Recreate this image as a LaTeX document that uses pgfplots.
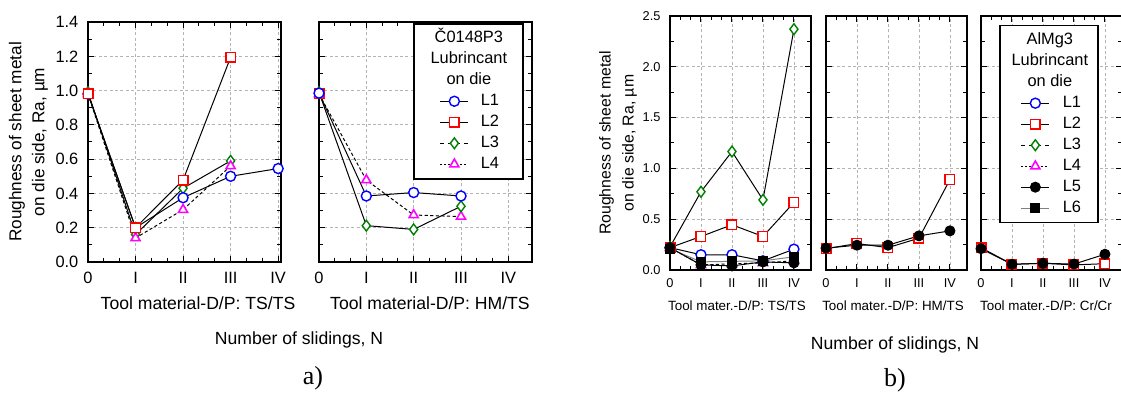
\documentclass[border=0pt]{standalone}
\usepackage{fontspec}
\setmainfont{Liberation Sans}
\newfontfamily\serifa{Liberation Serif}
\usepackage{pgfplots}
\pgfplotsset{compat=1.18}
\definecolor{cgreen}{RGB}{0,128,0}
\definecolor{cmag}{RGB}{255,0,255}
\definecolor{cgrid}{RGB}{180,180,180}
\definecolor{cgray}{RGB}{128,128,128}

\pgfplotsset{
 base/.style={scale only axis, clip=false,
   axis line style={line width=0.9pt},
   every tick/.style={black, line width=0.5pt},
   major tick length=3pt, minor tick length=1.8pt, tick align=inside,
   grid=major, major grid style={cgrid, dash pattern=on 1.5pt off 1.2pt, line width=0.4pt},
   xtick={0,1,2,3,4}, xticklabels={0,I,II,III,IV}, minor x tick num=2,
   xmin=0, ymin=0,
   /pgf/number format/assume math mode=true,
   yticklabel style={/pgf/number format/fixed, /pgf/number format/fixed zerofill, /pgf/number format/precision=1},
   legend cell align=left},
 fontA/.style={
   tick label style={/tikz/font=\fontsize{8.2}{9}\selectfont},
   xticklabel style={/tikz/anchor=base, /tikz/yshift=-11pt},
   yticklabel style={/tikz/xshift=-1.3pt},
   xlabel style={font=\fontsize{8.8}{10}\selectfont, at={(axis description cs:0.5,0)}, anchor=center, yshift=-20.5pt},
   ylabel style={font=\fontsize{8.6}{11.5}\selectfont, align=center, at={(axis description cs:-0.3083,0.5)}, anchor=center}},
 fontB/.style={
   tick label style={/tikz/font=\fontsize{6.4}{7}\selectfont},
   xticklabel style={/tikz/anchor=base, /tikz/yshift=-8.8pt},
   yticklabel style={/tikz/xshift=-1.2pt},
   xlabel style={font=\fontsize{6.7}{8}\selectfont, at={(axis description cs:0.5,0)}, anchor=center, yshift=-18pt},
   ylabel style={font=\fontsize{7.9}{11.5}\selectfont, align=center, at={(axis description cs:-0.3688,0.5)}, anchor=center}},
 sL1/.style={black, line width=0.5pt, solid, mark=*, mark size=2.5pt, mark options={draw=blue, fill=white, solid, line width=0.7pt}},
 sL2/.style={black, line width=0.5pt, solid, mark=square*, mark size=2.4pt, mark options={draw=red, fill=white, solid, line width=0.7pt}},
 sL3/.style={black, line width=0.5pt, solid, mark=diamond*, mark size=2.7pt, mark options={draw=cgreen, fill=white, solid, line width=0.7pt}},
 sL4/.style={black, line width=0.5pt, dash pattern=on 1.6pt off 1.2pt, mark=triangle*, mark size=2.6pt, mark options={draw=cmag, fill=white, solid, line width=0.8pt}},
 sL5/.style={black, line width=0.5pt, solid, mark=*, mark size=2.5pt, mark options={draw=black, fill=black, solid}},
 sL6/.style={cgray, line width=0.5pt, solid, mark=square*, mark size=2.3pt, mark options={draw=black, fill=black, solid}},
 gL3/.style={sL3, dash pattern=on 2pt off 2pt},
 gL4/.style={sL4, dash pattern=on 1pt off 1pt},
 legbase/.style={legend style={draw=black, line width=0.8pt, fill=white,
   inner xsep=0pt, inner ysep=2pt, font=\fontsize{8.2}{10}\selectfont,
   column sep=0pt, row sep=0pt,
   nodes={inner xsep=0pt, inner ysep=1.5pt, text height=6pt, text depth=1.5pt}}},
 legA/.style={legbase, legend image code/.code={\path (-13pt,0pt); \draw[mark repeat=2,mark phase=2,##1] plot coordinates {(0pt,0pt)(7pt,0pt)(14pt,0pt)};}},
 legB/.style={legbase, legend image code/.code={\path (-10.5pt,0pt); \draw[mark repeat=2,mark phase=2,##1] plot coordinates {(0pt,0pt)(7pt,0pt)(14pt,0pt)};}},
}

\begin{document}
\begin{tikzpicture}
\useasboundingbox (0pt,0pt) rectangle (560.5pt,-197pt);

% ---------- a) TS/TS ----------
\begin{axis}[base, fontA, at={(44pt,-11pt)}, anchor=north west,
  width=96.5pt, height=120pt, xmax=4.06, ymax=1.4,
  ytick={0,0.2,0.4,0.6,0.8,1.0,1.2,1.4}, minor y tick num=1,
  xlabel={Tool material-D/P: TS/TS},
  xlabel style={xshift=6.75pt},
  ylabel={Roughness of sheet metal\\on die side, Ra, µm}]
\addplot[sL3, forget plot] coordinates {(0,0.99)(1,0.16)(2,0.43)(3,0.59)};
\addplot[sL4, forget plot] coordinates {(0,0.98)(1,0.14)(2,0.305)(3,0.56)};
\addplot[sL1, forget plot] coordinates {(0,0.98)(1,0.20)(2,0.375)(3,0.50)(4,0.545)};
\addplot[sL2, forget plot] coordinates {(0,0.98)(1,0.20)(2,0.478)(3,1.194)};
\end{axis}

% ---------- a) HM/TS ----------
\begin{axis}[base, fontA, legA, at={(159.5pt,-11pt)}, anchor=north west,
  width=106.5pt, height=120pt, xmax=4.5, ymax=1.4,
  ytick={0,0.2,0.4,0.6,0.8,1.0,1.2,1.4}, minor y tick num=1,
  yticklabels={},
  xlabel={Tool material-D/P: HM/TS},
  xlabel style={xshift=2.25pt},
  legend style={at={(axis description cs:0.962,0.996)}, anchor=north east}]
\addplot[sL2, forget plot] coordinates {(0,0.98)};
\addplot[sL4, forget plot] coordinates {(0,0.98)(1,0.478)(2,0.274)(3,0.265)};
\addplot[sL3, forget plot] coordinates {(0,0.99)(1,0.212)(2,0.19)(3,0.325)};
\addplot[sL1, forget plot] coordinates {(0,0.985)(1,0.385)(2,0.405)(3,0.385)};
\addlegendimage{empty legend}\addlegendentry{\hspace*{-1pt}\makebox[0pt][c]{Č0148P3}}
\addlegendimage{empty legend}\addlegendentry{\hspace*{-1pt}\makebox[0pt][c]{Lubrincant}}
\addlegendimage{empty legend}\addlegendentry{\hspace*{-1pt}\makebox[0pt][c]{on die}}
\addlegendimage{sL1}\addlegendentry{\hspace*{6pt}L1\hspace*{12pt}}
\addlegendimage{sL2}\addlegendentry{\hspace*{6pt}L2\hspace*{12pt}}
\addlegendimage{gL3}\addlegendentry{\hspace*{6pt}L3\hspace*{12pt}}
\addlegendimage{gL4}\addlegendentry{\hspace*{6pt}L4\hspace*{12pt}}
\end{axis}

\node[font=\fontsize{8.8}{10}\selectfont] at (149.5pt,-170pt) {Number of slidings, N};
\node[font=\serifa\fontsize{13}{14}\selectfont] at (156.5pt,-189pt) {a)};

% ---------- b) TS/TS ----------
\begin{axis}[base, fontB, at={(335pt,-8pt)}, anchor=north west,
  width=70.5pt, height=127pt, xmax=4.55, ymax=2.5,
  ytick={0,0.5,1.0,1.5,2.0,2.5}, minor y tick num=1,
  xlabel={Tool mater.-D/P: TS/TS},
  xlabel style={xshift=-1.75pt},
  ylabel={Roughness of sheet metal\\on die side, Ra, µm}]
\addplot[sL4, forget plot] coordinates {(0,0.22)(1,0.05)(2,0.06)(3,0.07)(4,0.09)};
\addplot[sL1, forget plot] coordinates {(0,0.22)(1,0.15)(2,0.15)(3,0.09)(4,0.205)};
\addplot[sL2, forget plot] coordinates {(0,0.22)(1,0.33)(2,0.445)(3,0.33)(4,0.665)};
\addplot[sL3, forget plot] coordinates {(0,0.227)(1,0.77)(2,1.166)(3,0.69)(4,2.37)};
\addplot[sL6, forget plot] coordinates {(0,0.21)(1,0.08)(2,0.085)(3,0.09)(4,0.13)};
\addplot[sL5, forget plot] coordinates {(0,0.22)(1,0.05)(2,0.04)(3,0.08)(4,0.07)};
\end{axis}

% ---------- b) HM/TS ----------
\begin{axis}[base, fontB, at={(413pt,-8pt)}, anchor=north west,
  width=70.5pt, height=127pt, xmax=4.55, ymax=2.5,
  ytick={0,0.5,1.0,1.5,2.0,2.5}, minor y tick num=1,
  yticklabels={},
  xlabel={Tool mater.-D/P: HM/TS},
  xlabel style={xshift=-1.75pt}]
\addplot[sL2, forget plot] coordinates {(0,0.21)(1,0.26)(2,0.22)(3,0.313)(4,0.89)};
\addplot[sL5, forget plot] coordinates {(0,0.215)(1,0.244)(2,0.244)(3,0.336)(4,0.385)};
\end{axis}

% ---------- b) Cr/Cr ----------
\begin{axis}[base, fontB, legB, at={(490.5pt,-8pt)}, anchor=north west,
  width=70.5pt, height=127pt, xmax=4.55, ymax=2.5,
  ytick={0,0.5,1.0,1.5,2.0,2.5}, minor y tick num=1,
  yticklabels={},
  xlabel={Tool mater.-D/P: Cr/Cr},
  xlabel style={xshift=-2.75pt},
  legend style={at={(axis description cs:0.128,0.965)}, anchor=north west}]
\addplot[sL2, forget plot] coordinates {(0,0.22)(1,0.056)(2,0.066)(3,0.05)(4,0.062)};
\addplot[sL5, forget plot] coordinates {(0,0.21)(1,0.056)(2,0.066)(3,0.058)(4,0.155)};
\addlegendimage{empty legend}\addlegendentry{\hspace*{-1pt}\makebox[0pt][c]{AlMg3}}
\addlegendimage{empty legend}\addlegendentry{\hspace*{-1pt}\makebox[0pt][c]{Lubrincant}}
\addlegendimage{empty legend}\addlegendentry{\hspace*{-1pt}\makebox[0pt][c]{on die}}
\addlegendimage{sL1}\addlegendentry{\hspace*{6.5pt}L1\hspace*{8.5pt}}
\addlegendimage{sL2}\addlegendentry{\hspace*{6.5pt}L2\hspace*{8.5pt}}
\addlegendimage{gL3}\addlegendentry{\hspace*{6.5pt}L3\hspace*{8.5pt}}
\addlegendimage{gL4}\addlegendentry{\hspace*{6.5pt}L4\hspace*{8.5pt}}
\addlegendimage{sL5}\addlegendentry{\hspace*{6.5pt}L5\hspace*{8.5pt}}
\addlegendimage{sL6}\addlegendentry{\hspace*{6.5pt}L6\hspace*{8.5pt}}
\end{axis}

\node[font=\fontsize{8.8}{10}\selectfont] at (447.5pt,-172.5pt) {Number of slidings, N};
\node[font=\serifa\fontsize{13}{14}\selectfont] at (447.5pt,-190pt) {b)};
\end{tikzpicture}
\end{document}
